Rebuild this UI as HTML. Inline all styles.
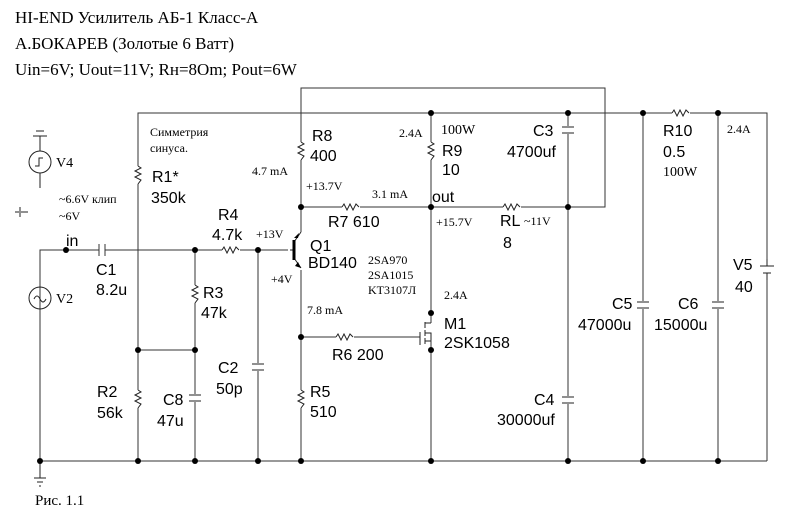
<!DOCTYPE html>
<html><head><meta charset="utf-8"><style>
html,body{margin:0;padding:0;background:#fff;}
svg{display:block}
.s{font-family:"Liberation Sans","DejaVu Sans",sans-serif;font-size:16px;fill:#000}
.t{font-family:"Liberation Serif","DejaVu Serif",serif;font-size:12px;fill:#000}
.h{font-family:"Liberation Serif","DejaVu Serif",serif;font-size:17px;fill:#000}
</style></head><body>
<svg width="796" height="528" viewBox="0 0 796 528" xmlns="http://www.w3.org/2000/svg">
<g stroke="#333" stroke-width="1" fill="none">
<path d="M301 113 V88 H605 V207 H568"/>
<path d="M138 461 V113 H767 V461"/>
<path d="M40 461 H767"/>
<path d="M40 461 V250 H99 M105 250 H290"/>
<path d="M99 244 V256 M105 244 V256"/>
<path d="M301 113 V461"/>
<path d="M301 207 H431 H568"/>
<path d="M431 113 V323 M431 340 V461"/>
<path d="M568 113 V461"/>
<path d="M643 113 V461 M718 113 V461"/>
<path d="M195 250 V461 M138 350 H195"/>
<path d="M258 250 V461"/>
<path d="M301 337 H420 V332"/>
</g>
<g fill="#fff">
<rect x="296" y="142" width="10" height="18"/>
<rect x="426" y="142" width="10" height="18"/>
<rect x="342" y="202" width="18" height="10"/>
<rect x="503" y="202" width="18" height="10"/>
<rect x="672" y="108" width="18" height="10"/>
<rect x="222" y="245" width="18" height="10"/>
<rect x="133" y="166" width="10" height="18"/>
<rect x="190" y="285" width="10" height="18"/>
<rect x="133" y="390" width="10" height="18"/>
<rect x="296" y="390" width="10" height="18"/>
<rect x="336" y="332" width="18" height="10"/>
<rect x="563" y="126" width="10" height="8"/>
<rect x="563" y="396" width="10" height="8"/>
<rect x="638" y="301" width="10" height="8"/>
<rect x="713" y="301" width="10" height="8"/>
<rect x="190" y="394" width="10" height="8"/>
<rect x="253" y="363" width="10" height="8"/>
<rect x="762" y="265" width="10" height="10"/>
<rect x="288" y="232" width="16" height="38"/>
</g>
<g stroke="#222" stroke-width="1" fill="none">
<path d="M301 142 l3 2 -6 3 6 3 -6 3 6 3 -3 4"/>
<path d="M431 142 l3 2 -6 3 6 3 -6 3 6 3 -3 4"/>
<path d="M138 166 l3 2 -6 3 6 3 -6 3 6 3 -3 4"/>
<path d="M195 285 l3 2 -6 3 6 3 -6 3 6 3 -3 4"/>
<path d="M138 390 l3 2 -6 3 6 3 -6 3 6 3 -3 4"/>
<path d="M301 390 l3 2 -6 3 6 3 -6 3 6 3 -3 4"/>
<path d="M342 207 l2 -3 3 6 3 -6 3 6 3 -6 3 3"/>
<path d="M503 207 l2 -3 3 6 3 -6 3 6 3 -6 3 3"/>
<path d="M672 113 l2 -3 3 6 3 -6 3 6 3 -6 3 3"/>
<path d="M222 250 l2 -3 3 6 3 -6 3 6 3 -6 3 3"/>
<path d="M336 337 l2 -3 3 6 3 -6 3 6 3 -6 3 3"/>
<path d="M562 127 H574 M562 133 H574"/>
<path d="M562 397 H574 M562 403 H574"/>
<path d="M637 302 H649 M637 308 H649"/>
<path d="M712 302 H724 M712 308 H724"/>
<path d="M189 395 H201 M189 401 H201"/>
<path d="M252 364 H264 M252 370 H264"/>
<path d="M760 266 H774 M763 273 H771 M767 266 V259 M767 273 V280"/>
<path d="M290 250 H293" />
<path d="M301 232 L294 242 M294 258 L301 268"/>
<path d="M420 332 V345 M425 322 V328 M425 330 V336 M425 338 V344 M425 323 H431 M425 341 H431 M425 333 H431 V340"/>
<circle cx="40" cy="298" r="11"/>
<path d="M34 299 q3 -6 6 0 q3 6 6 0"/>
<circle cx="40" cy="162" r="11"/>
<path d="M35 166 h4 v-8 h4"/>
<path d="M40 151 V136 M40 173 V188 M33 136 H47 M36 131 H44"/>
<path d="M40 461 V478 M34 478 H46 M37 482 H43 M39 486 H41"/>
<path d="M15 212 H19 M20 207 V217 M21 212 H28"/>
</g>
<path d="M294 240 V260" stroke="#000" stroke-width="3"/>
<path d="M301 268 l-6 -2 3 -4z" fill="#000"/>
<path d="M299 233 l-5 5 4 0z" fill="#000"/>
<g fill="#000">
<circle cx="431" cy="113" r="3"/><circle cx="568" cy="113" r="3"/><circle cx="643" cy="113" r="3"/><circle cx="718" cy="113" r="3"/>
<circle cx="301" cy="207" r="3"/><circle cx="431" cy="207" r="3"/><circle cx="568" cy="207" r="3"/>
<circle cx="66" cy="250" r="3"/><circle cx="195" cy="250" r="3"/><circle cx="258" cy="250" r="3"/>
<circle cx="138" cy="350" r="3"/><circle cx="195" cy="350" r="3"/>
<circle cx="301" cy="337" r="3"/><circle cx="431" cy="313" r="3"/><circle cx="431" cy="350" r="3"/>
<circle cx="40" cy="461" r="3"/><circle cx="138" cy="461" r="3"/><circle cx="195" cy="461" r="3"/><circle cx="258" cy="461" r="3"/><circle cx="301" cy="461" r="3"/><circle cx="431" cy="461" r="3"/><circle cx="568" cy="461" r="3"/><circle cx="643" cy="461" r="3"/><circle cx="718" cy="461" r="3"/>
</g>
<text class="h" x="15" y="23">HI-END Усилитель АБ-1 Класс-А</text>
<text class="h" x="15" y="49">А.БОКАРЕВ  (Золотые 6 Ватт)</text>
<text class="h" x="15" y="75">Uin=6V; Uout=11V; Rн=8Om; Pout=6W</text>
<text class="h" x="35" y="505" style="font-size:15px">Рис. 1.1</text>
<g class="t">
<text x="150" y="136">Симметрия</text><text x="150" y="152">синуса.</text>
<text x="59" y="203">~6.6V клип</text><text x="59" y="220">~6V</text>
<text x="252" y="175">4.7 mA</text><text x="306" y="190">+13.7V</text>
<text x="372" y="198">3.1 mA</text><text x="256" y="238">+13V</text>
<text x="271" y="283">+4V</text><text x="307" y="314">7.8 mA</text>
<text x="368" y="264">2SA970</text><text x="368" y="279">2SA1015</text><text x="368" y="294">KT3107Л</text>
<text x="399" y="137">2.4A</text><text x="441" y="134" style="font-size:14px">100W</text>
<text x="436" y="226">+15.7V</text><text x="524" y="225">~11V</text>
<text x="444" y="299">2.4A</text><text x="663" y="176" style="font-size:14px">100W</text>
<text x="727" y="133">2.4A</text>
<text x="56" y="167" style="font-size:14px">V4</text><text x="56" y="303" style="font-size:14px">V2</text>
</g>
<g class="s">
<text x="312" y="141">R8</text><text x="310" y="161">400</text>
<text x="152" y="182">R1*</text><text x="151" y="203">350k</text>
<text x="218" y="220">R4</text><text x="212" y="240">4.7k</text>
<text x="310" y="251">Q1</text><text x="308" y="268">BD140</text>
<text x="66" y="246">in</text>
<text x="96" y="275">C1</text><text x="96" y="295">8.2u</text>
<text x="203" y="298">R3</text><text x="201" y="318">47k</text>
<text x="328" y="227">R7 610</text>
<text x="442" y="156">R9</text><text x="442" y="175">10</text>
<text x="432" y="202">out</text>
<text x="500" y="226">RL</text><text x="503" y="248">8</text>
<text x="533" y="136">C3</text><text x="507" y="157">4700uf</text>
<text x="663" y="136">R10</text><text x="663" y="157">0.5</text>
<text x="733" y="270">V5</text><text x="735" y="292">40</text>
<text x="444" y="329">M1</text><text x="444" y="348">2SK1058</text>
<text x="332" y="360">R6 200</text>
<text x="612" y="309">C5</text><text x="578" y="330">47000u</text>
<text x="678" y="309">C6</text><text x="654" y="330">15000u</text>
<text x="218" y="373">C2</text><text x="216" y="394">50p</text>
<text x="97" y="397">R2</text><text x="97" y="418">56k</text>
<text x="163" y="405">C8</text><text x="157" y="426">47u</text>
<text x="310" y="397">R5</text><text x="310" y="417">510</text>
<text x="534" y="405">C4</text><text x="497" y="425">30000uf</text>
</g>
</svg>
</body></html>
